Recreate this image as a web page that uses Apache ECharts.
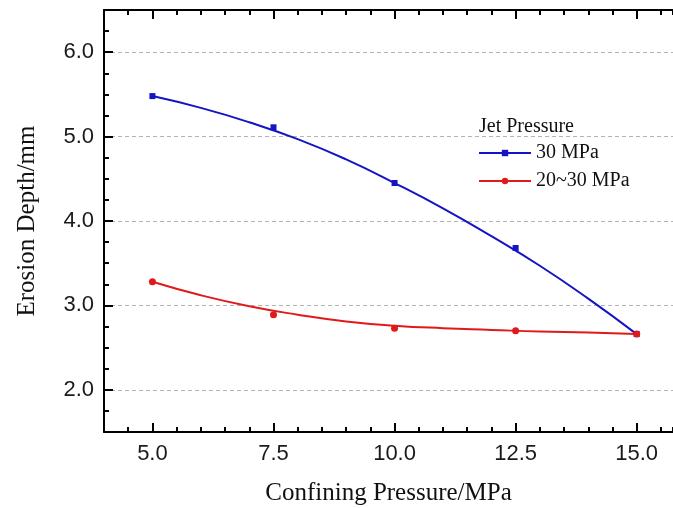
<!DOCTYPE html>
<html>
<head>
<meta charset="utf-8">
<script src="https://cdn.jsdelivr.net/npm/echarts@6/dist/echarts.min.js"></script>
<style>
html,body{margin:0;padding:0;background:#fff;}
#chart{width:673px;height:508px;}
</style>
</head>
<body>
<div id="chart"></div>
<script>
// ---- data ----
const xPoints = [5, 7.5, 10, 12.5, 15];
const blueDepth = [5.48, 5.11, 4.45, 3.68, 2.66];   // 30 MPa measured
const redDepth = [3.28, 2.89, 2.73, 2.70, 2.66];    // 20~30 MPa measured
const fitX = [5, 6, 7, 8, 9, 10, 11, 12, 13, 14, 15];
const blueFit = [5.48, 5.34, 5.17, 4.97, 4.73, 4.45, 4.15, 3.82, 3.47, 3.08, 2.66];
const redFit = [3.28, 3.12, 2.99, 2.89, 2.81, 2.76, 2.73, 2.71, 2.69, 2.68, 2.66];
const xTicks = [5, 7.5, 10, 12.5, 15];
const yTicks = [2, 3, 4, 5, 6];
const seriesNames = ['30 MPa', '20~30 MPa'];
const legendTitle = 'Jet Pressure';
const xName = 'Confining Pressure/MPa';
const yName = 'Erosion Depth/mm';

const pair = (xs, ys) => xs.map((x, i) => [x, ys[i]]);
const BLUE = '#1414c4';
const RED = '#e01a1a';
const serif = "'Liberation Serif', 'Times New Roman', serif";
const sans = "'Liberation Sans', Arial, sans-serif";

const chart = echarts.init(document.getElementById('chart'), null, {renderer: 'canvas'});
const axisLineStyle = {color: '#000', width: 2};
const X_MIN = 4, X_MAX = 15.75;

const option = {
  animation: false,
  backgroundColor: '#fff',
  title: {
    text: legendTitle,
    left: 479,
    top: 117,
    padding: 0,
    textStyle: {fontFamily: serif, fontSize: 20, fontWeight: 'normal', color: '#111'}
  },
  legend: {
    data: seriesNames,
    orient: 'vertical',
    left: 478,
    top: 143,
    padding: 0,
    itemWidth: 52,
    itemHeight: 8,
    itemGap: 8,
    textStyle: {fontFamily: serif, fontSize: 20, color: '#111', lineHeight: 20}
  },
  grid: {left: 104, top: 10, right: 0, height: 422, outerBoundsMode: 'none', containLabel: false},
  xAxis: [
    { // minor ticks bottom
      type: 'value', position: 'bottom', min: X_MIN, max: X_MAX, interval: 0.5,
      axisLine: {show: true, onZero: false, lineStyle: axisLineStyle},
      axisTick: {show: true, inside: true, length: 5, lineStyle: {color: '#000', width: 2}},
      axisLabel: {show: false}, splitLine: {show: false}
    },
    { // major ticks + labels bottom
      type: 'value', position: 'bottom', min: X_MIN, max: X_MAX,
      axisLine: {show: false, onZero: false},
      axisTick: {show: true, inside: true, length: 9, customValues: xTicks, lineStyle: {color: '#000', width: 2}},
      axisLabel: {show: true, customValues: xTicks, margin: 11, formatter: v => v.toFixed(1),
                  fontFamily: sans, fontSize: 22, color: '#1a1a1a'},
      splitLine: {show: false},
      name: xName, nameLocation: 'middle', nameGap: 49,
      nameTextStyle: {fontFamily: serif, fontSize: 25, color: '#111'}
    },
    { // minor ticks top
      type: 'value', position: 'top', min: X_MIN, max: X_MAX, interval: 0.5,
      axisLine: {show: true, onZero: false, lineStyle: axisLineStyle},
      axisTick: {show: true, inside: true, length: 5, lineStyle: {color: '#000', width: 2}},
      axisLabel: {show: false}, splitLine: {show: false}
    },
    { // major ticks top
      type: 'value', position: 'top', min: X_MIN, max: X_MAX,
      axisLine: {show: false, onZero: false},
      axisTick: {show: true, inside: true, length: 9, customValues: xTicks, lineStyle: {color: '#000', width: 2}},
      axisLabel: {show: false}, splitLine: {show: false}
    }
  ],
  yAxis: [
    { // minor ticks
      type: 'value', position: 'left', min: 1.5, max: 6.5, interval: 0.25,
      axisLine: {show: true, onZero: false, lineStyle: axisLineStyle},
      axisTick: {show: true, inside: true, length: 5, lineStyle: {color: '#000', width: 2}},
      axisLabel: {show: false}, splitLine: {show: false}
    },
    { // major ticks, labels, grid lines
      type: 'value', position: 'left', min: 1.5, max: 6.5,
      axisLine: {show: false, onZero: false},
      axisTick: {show: true, inside: true, length: 9, customValues: yTicks, lineStyle: {color: '#000', width: 2}},
      axisLabel: {show: true, customValues: yTicks, margin: 10, formatter: v => v.toFixed(1),
                  fontFamily: sans, fontSize: 22, color: '#1a1a1a'},
      splitLine: {show: true, lineStyle: {color: '#b4b4b4', width: 1, type: [4, 3]}},
      name: yName, nameLocation: 'middle', nameGap: 64,
      nameTextStyle: {fontFamily: serif, fontSize: 25, color: '#111'}
    }
  ],
  series: [
    {
      name: seriesNames[0], type: 'line', xAxisIndex: 0, yAxisIndex: 0,
      data: pair(fitX, blueFit), smooth: true, symbol: 'rect', symbolSize: 6, showSymbol: false,
      lineStyle: {color: BLUE, width: 2}, itemStyle: {color: BLUE}, z: 3
    },
    {
      name: seriesNames[1], type: 'line', xAxisIndex: 0, yAxisIndex: 0,
      data: pair(fitX, redFit), smooth: true, symbol: 'circle', symbolSize: 6, showSymbol: false,
      lineStyle: {color: RED, width: 2}, itemStyle: {color: RED}, z: 3
    },
    {
      name: '30 MPa points', type: 'scatter', xAxisIndex: 0, yAxisIndex: 0,
      data: pair(xPoints, blueDepth), symbol: 'rect', symbolSize: 6,
      itemStyle: {color: BLUE, opacity: 1}, z: 4
    },
    {
      name: '20~30 MPa points', type: 'scatter', xAxisIndex: 0, yAxisIndex: 0,
      data: pair(xPoints, redDepth), symbol: 'circle', symbolSize: 7,
      itemStyle: {color: RED, opacity: 1}, z: 4
    }
  ]
};
chart.setOption(option);
</script>
</body>
</html>
